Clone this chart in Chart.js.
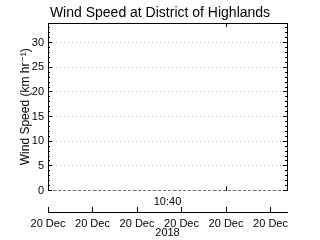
<!DOCTYPE html>
<html>
<head>
<meta charset="utf-8">
<script src="https://cdn.jsdelivr.net/npm/chart.js@4"></script>
<style>
  html, body { margin: 0; padding: 0; background: #fff; }
  canvas { display: block; }
</style>
</head>
<body>
<canvas id="windChart" width="320" height="240"></canvas>
<script>
// time along the x axis, in tick units (one "20 Dec" tick per unit)
const times = [0, 1, 2, 3, 4, 5, 5.37];
const windSpeed = [0, 0, 0, 0, 0, 0, 0];
const xTickLabel = "20 Dec";
const timeLabel = "10:40";
const yearLabel = "2018";
const xMin = 0, xMax = 5.37;
const yMin = 0, yMax = 34;

const FONT = "'Liberation Sans', 'DejaVu Sans', sans-serif";

const onlyAt = (v, col) => ctx => (ctx.tick && Math.abs(ctx.tick.value - v) < 1e-6) ? col : "rgba(0,0,0,0)";

const ctx = document.getElementById("windChart").getContext("2d");
new Chart(ctx, {
    type: "line",
    data: {
        datasets: [{
            data: times.map((t, i) => ({ x: t, y: windSpeed[i] })),
            borderColor: "#000",
            borderWidth: 1,
            borderDash: [3, 2],
            pointRadius: 0,
            fill: false,
            tension: 0,
            xAxisID: "x",
            yAxisID: "y"
        }]
    },
    options: {
        responsive: false,
        animation: false,
        layout: { padding: 0 },
        plugins: {
            legend: { display: false },
            tooltip: { enabled: false },
            title: {
                display: true,
                text: "Wind Speed at District of Highlands",
                color: "#000",
                font: { family: FONT, size: 14, weight: "normal", lineHeight: 1.1 },
                padding: { top: 5, bottom: 2.6 }
            }
        },
        scales: {
            x: {
                type: "linear", position: "bottom", min: xMin, max: xMax, weight: 0,
                border: { display: false },
                grid: { drawOnChartArea: false, tickLength: -4, color: onlyAt(4, "#000") },
                ticks: { display: false, stepSize: 1, includeBounds: false },
                title: { display: true, text: timeLabel, color: "#000", font: { family: FONT, size: 11 }, padding: { top: 0, bottom: 3.5 } },
                afterFit: s => { s.height = 21.5; }
            },
            x2: {
                type: "linear", position: "bottom", min: xMin, max: xMax, weight: 1,
                border: { display: true, color: "#000" },
                grid: { drawOnChartArea: false, tickLength: -5, color: "#000" },
                ticks: {
                    stepSize: 1, includeBounds: false, autoSkip: false, maxRotation: 0,
                    padding: 10, color: "#000", font: { family: FONT, size: 11 },
                    callback: () => xTickLabel
                },
                title: { display: true, text: yearLabel, color: "#000", font: { family: FONT, size: 11 }, padding: { top: 0, bottom: 0.5 } },
                afterFit: s => { s.height = 28; }
            },
            xTop: {
                type: "linear", position: "top", min: xMin, max: xMax,
                border: { display: true, color: "#000" },
                grid: { drawOnChartArea: false, tickLength: -4, color: onlyAt(4, "#000") },
                ticks: { display: false, stepSize: 1, includeBounds: false },
                afterFit: s => { s.height = 0; }
            },
            y: {
                position: "left", min: yMin, max: yMax, weight: 0,
                border: { display: false, dash: [1, 3] },
                grid: { color: "#bbbbbb", tickColor: "#000", tickLength: -4, tickBorderDash: [] },
                ticks: { stepSize: 5, includeBounds: false, padding: 8, color: "#000", font: { family: FONT, size: 11 } },
                title: {
                    display: true, text: "Wind Speed (km hr\u207B\u00B9)", color: "#000",
                    font: { family: FONT, size: 12 }, padding: { top: 18, bottom: 0 }
                },
                afterFit: s => { s.width = 48; }
            },
            yMinor: {
                position: "left", min: yMin, max: yMax, weight: -1,
                border: { display: true, color: "#000" },
                grid: { drawOnChartArea: false, tickLength: -2, color: "#000" },
                ticks: { display: false, stepSize: 1, includeBounds: false },
                afterFit: s => { s.width = 0; }
            },
            yRight: {
                position: "right", min: yMin, max: yMax, weight: 0,
                border: { display: true, color: "#000" },
                grid: { drawOnChartArea: false, tickLength: -4, color: "#000" },
                ticks: { display: false, stepSize: 5, includeBounds: false },
                afterFit: s => { s.width = 33; }
            },
            yRightMinor: {
                position: "right", min: yMin, max: yMax, weight: -1,
                border: { display: false },
                grid: { drawOnChartArea: false, tickLength: -2, color: "#000" },
                ticks: { display: false, stepSize: 1, includeBounds: false },
                afterFit: s => { s.width = 0; }
            }
        }
    }
});
</script>
</body>
</html>
